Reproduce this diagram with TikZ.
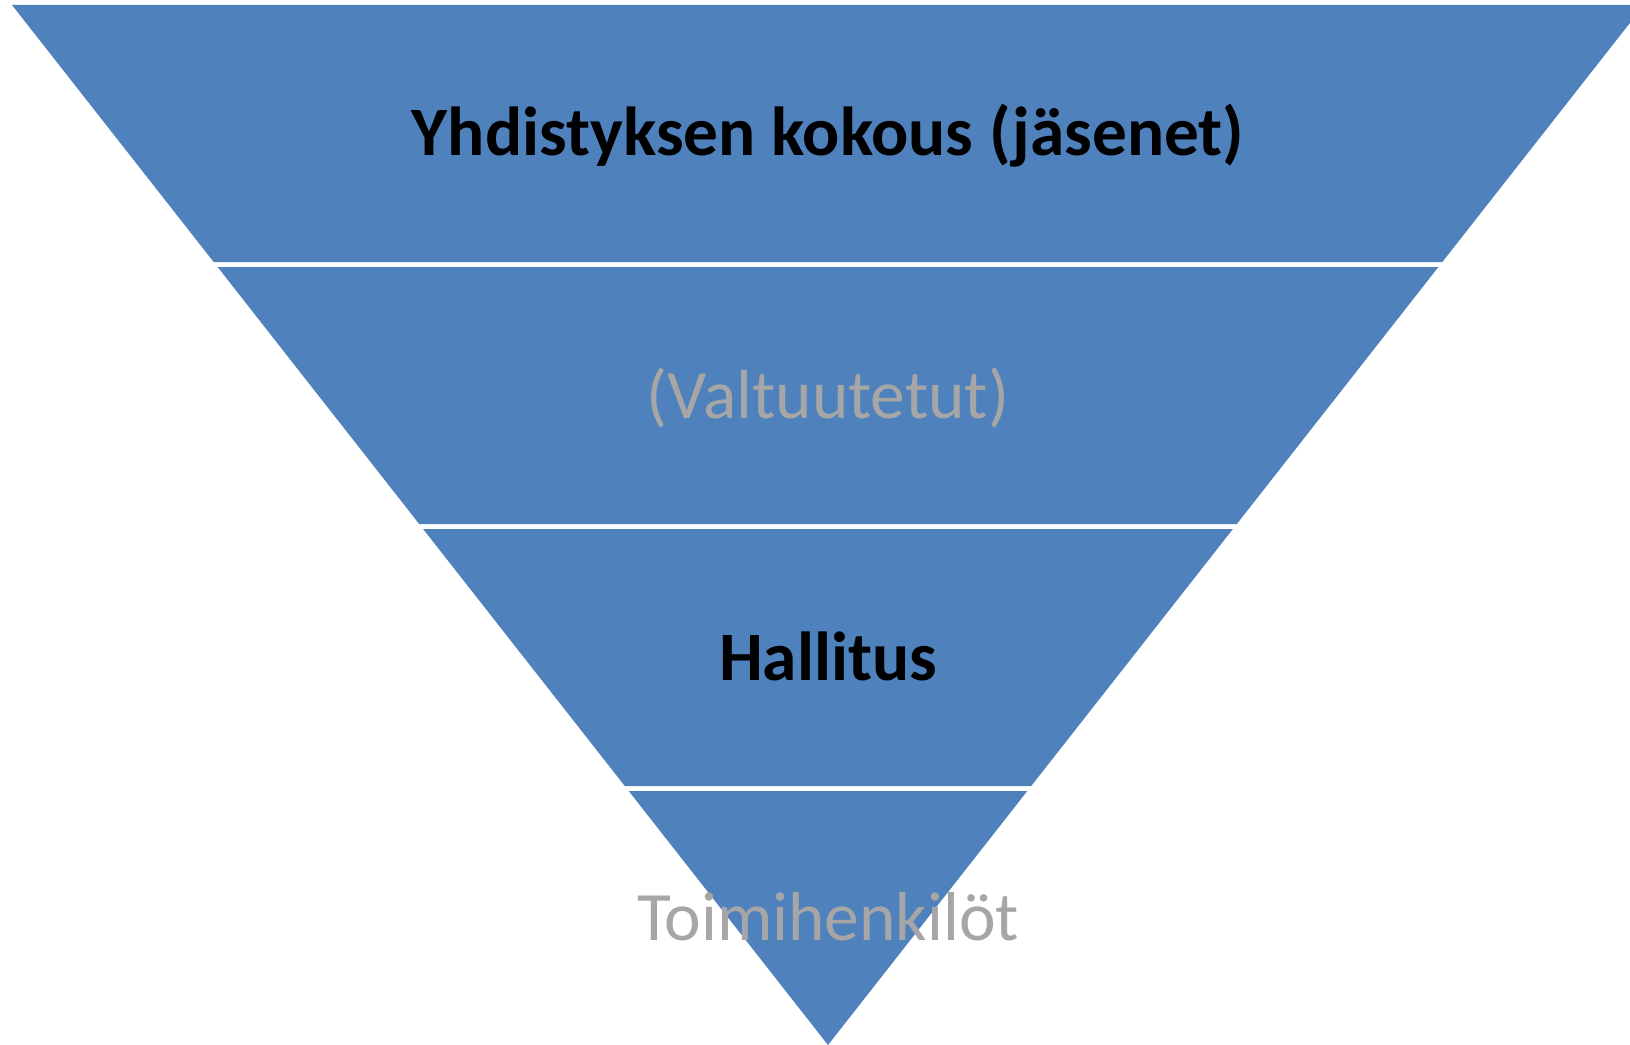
\documentclass[tikz,border=0pt]{standalone}
\usepackage{fontspec}
\setmainfont{Carlito}
\definecolor{bandblue}{HTML}{4F81BD}
\definecolor{labelgray}{HTML}{A6A6A6}

\begin{document}
\begin{tikzpicture}[
      x=0.75pt, y=-0.75pt,
      band/.style = {fill=bandblue},
      every node/.style = {anchor=base, inner sep=0pt,
        font=\fontsize{52}{62}\selectfont},
      strong/.style = {font=\fontsize{52}{62}\selectfont\bfseries, text=black},
      faint/.style = {text=labelgray}
    ]
      \clip (0,0) rectangle (1630,1045);
      \fill[white] (0,0) rectangle (1630,1045);

      \fill[band] (12,5) -- (1644,5) -- (1442.3,262) -- (213.7,262) -- cycle;
      \fill[band] (217.6,267) -- (1438.4,267) -- (1236.8,524) -- (419.2,524) -- cycle;
      \fill[band] (423.1,529) -- (1232.9,529) -- (1031.2,786) -- (624.8,786) -- cycle;
      \fill[band] (628.7,791) -- (1027.3,791) -- (828,1045) -- cycle;

      \node[strong] (kokous)  at (828,156)   {Yhdistyksen kokous (jäsenet)};
      \node[faint]  (valtuutetut) at (828,418) {(Valtuutetut)};
      \node[strong] (hallitus) at (828,680)  {Hallitus};
      \node[faint]  (toimihenkilot) at (828,940.5) {Toimihenkilöt};
  \end{tikzpicture}
\end{document}
